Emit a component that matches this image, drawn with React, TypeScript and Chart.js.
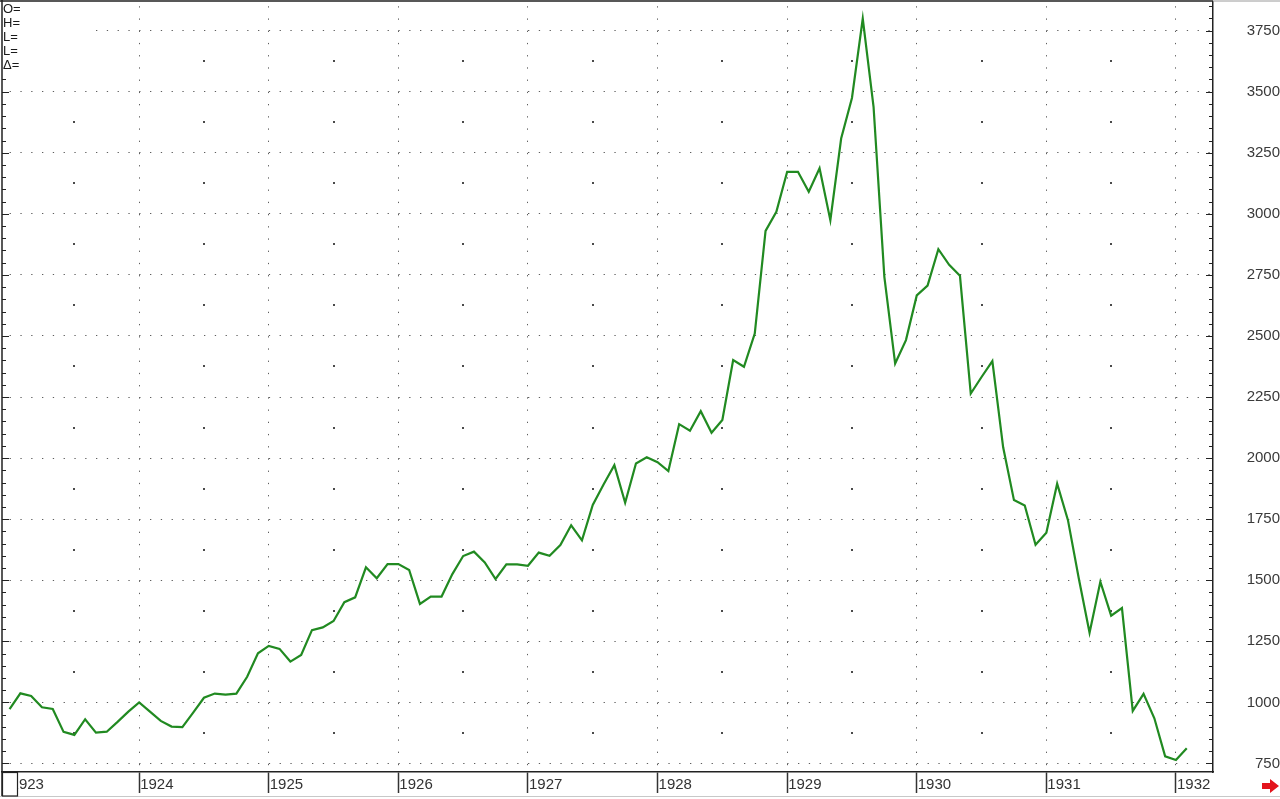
import React, { useEffect, useRef } from 'react';
import { Chart, registerables } from 'chart.js';

Chart.register(...registerables);

// Year tick labels (one tick every 12 months, starting January 1923)
const YEAR_LABELS = ['1923', '1924', '1925', '1926', '1927', '1928', '1929', '1930', '1931', '1932'];
const MONTHS_PER_YEAR = 12;

// Monthly closing values, Jan 1923 .. Feb 1932
const VALUES_1923 = [972, 1037, 1026, 980, 973, 879, 867, 931, 876, 880, 920, 962];
const VALUES_1924 = [1000, 962, 924, 901, 899, 958, 1019, 1036, 1032, 1036, 1105, 1201];
const VALUES_1925 = [1231, 1219, 1167, 1194, 1296, 1307, 1333, 1410, 1430, 1553, 1508, 1566];
const VALUES_1926 = [1566, 1542, 1403, 1433, 1433, 1525, 1599, 1617, 1573, 1505, 1565, 1565];
const VALUES_1927 = [1559, 1613, 1600, 1644, 1725, 1663, 1808, 1892, 1971, 1817, 1978, 2003];
const VALUES_1928 = [1983, 1947, 2139, 2112, 2192, 2104, 2156, 2401, 2374, 2510, 2930, 3008];
const VALUES_1929 = [3172, 3172, 3090, 3186, 2974, 3308, 3474, 3799, 3438, 2742, 2387, 2483];
const VALUES_1930 = [2666, 2706, 2855, 2791, 2746, 2264, 2332, 2397, 2044, 1828, 1806, 1645];
const VALUES_1931 = [1694, 1895, 1746, 1508, 1285, 1494, 1355, 1386, 965, 1035, 935, 779];
const VALUES_1932 = [764, 812];

const MONTHLY_VALUES = [
  ...VALUES_1923, ...VALUES_1924, ...VALUES_1925, ...VALUES_1926, ...VALUES_1927,
  ...VALUES_1928, ...VALUES_1929, ...VALUES_1930, ...VALUES_1931, ...VALUES_1932,
];

// Right-axis tick labels
const Y_TICKS = [750, 1000, 1250, 1500, 1750, 2000, 2250, 2500, 2750, 3000, 3250, 3500, 3750];
// Levels half-way between grid lines (marked by single dots at half-years)
const MID_LEVELS = [875, 1125, 1375, 1625, 1875, 2125, 2375, 2625, 2875, 3125, 3375, 3625];
const MINOR_STEP = 50;

// Info panel labels, top-left
const INFO_LABELS = ['O=', 'H=', 'L=', 'L=', '\u0394='];

const FONT_FAMILY = '"Liberation Sans", Arial, sans-serif';

const decorPlugin = {
  id: 'decor',
  beforeDatasetsDraw(chart: any) {
    const { ctx, scales } = chart;
    const x = scales.x;
    const y = scales.y;
    ctx.save();
    ctx.fillStyle = '#4a4a4a';
    for (let i = 0; i < YEAR_LABELS.length; i++) {
      const m = i * MONTHS_PER_YEAR + MONTHS_PER_YEAR / 2;
      if (m > x.max) continue;
      const px = Math.round(x.getPixelForValue(m));
      for (const lv of MID_LEVELS) {
        const py = Math.round(y.getPixelForValue(lv));
        ctx.fillRect(px - 1, py - 1, 2, 2);
      }
    }
    ctx.restore();
  },
  afterDraw(chart: any) {
    const { ctx, chartArea: ca, scales } = chart;
    const y = scales.y;
    const W = chart.width;
    const H = chart.height;
    ctx.save();

    // top-left info panel
    const panelW = 93;
    const panelH = 70;
    ctx.fillStyle = '#ffffff';
    ctx.fillRect(ca.left, ca.top, panelW, panelH);
    ctx.fillStyle = '#1a1a1a';
    ctx.font = '13px ' + FONT_FAMILY;
    ctx.textBaseline = 'middle';
    ctx.textAlign = 'left';
    INFO_LABELS.forEach((t, i) => ctx.fillText(t, 3, 9.5 + i * 14));

    // inward ticks on left and right frame
    ctx.strokeStyle = '#222';
    ctx.lineWidth = 1;
    ctx.beginPath();
    for (let v = Math.ceil(y.min / MINOR_STEP) * MINOR_STEP; v <= y.max; v += MINOR_STEP) {
      const py = Math.round(y.getPixelForValue(v)) + 0.5;
      const len = v % 250 === 0 ? 7 : 4;
      if (py > ca.top + panelH) {
        ctx.moveTo(ca.left, py);
        ctx.lineTo(ca.left + len, py);
      }
      ctx.moveTo(ca.right, py);
      ctx.lineTo(ca.right - len, py);
    }
    ctx.stroke();

    // frame: top and left lines
    ctx.strokeStyle = '#222';
    ctx.lineWidth = 1.5;
    ctx.beginPath();
    ctx.moveTo(0, 1);
    ctx.lineTo(ca.right, 1);
    ctx.moveTo(2, 0);
    ctx.lineTo(2, H - 3);
    ctx.stroke();

    ctx.strokeStyle = '#9a9a9a';
    ctx.lineWidth = 1;
    ctx.beginPath();
    ctx.moveTo(ca.right, 1);
    ctx.lineTo(W, 1);
    ctx.stroke();

    // bottom strip lower edge
    ctx.strokeStyle = '#c8c8c8';
    ctx.beginPath();
    ctx.moveTo(0, H - 2.5);
    ctx.lineTo(W, H - 2.5);
    ctx.stroke();

    // little box at the start of the date strip
    ctx.fillStyle = '#ffffff';
    ctx.fillRect(2.5, ca.bottom + 1, 15, H - ca.bottom - 4);
    ctx.strokeStyle = '#222';
    ctx.lineWidth = 1.2;
    ctx.strokeRect(2.5, ca.bottom + 0.5, 15, H - ca.bottom - 3.5);

    // red arrow, bottom right
    ctx.fillStyle = '#e3141c';
    ctx.beginPath();
    ctx.moveTo(W - 18, H - 16);
    ctx.lineTo(W - 10, H - 16);
    ctx.lineTo(W - 10, H - 20);
    ctx.lineTo(W - 1, H - 13);
    ctx.lineTo(W - 10, H - 6);
    ctx.lineTo(W - 10, H - 10);
    ctx.lineTo(W - 18, H - 10);
    ctx.closePath();
    ctx.fill();

    ctx.restore();
  },
};

export default function App() {
  const canvasRef = useRef<HTMLCanvasElement | null>(null);

  useEffect(() => {
    const canvas = canvasRef.current;
    if (!canvas) return;
    const data = MONTHLY_VALUES.map((v, i) => ({ x: i, y: v }));
    const gridColor = '#5e5e5e';
    const chart = new Chart(canvas, {
      type: 'line',
      data: {
        datasets: [
          {
            data,
            borderColor: '#218a21',
            borderWidth: 2.2,
            pointRadius: 0,
            tension: 0,
            fill: false,
          },
        ],
      },
      options: {
        responsive: false,
        animation: false,
        devicePixelRatio: 1,
        layout: { padding: { left: 2, top: 2, right: 0, bottom: 0 } },
        plugins: { legend: { display: false }, tooltip: { enabled: false } },
        scales: {
          x: {
            type: 'linear',
            min: -0.7,
            max: 111.43,
            afterBuildTicks: (s: any) => {
              s.ticks = YEAR_LABELS.map((_, i) => ({ value: i * MONTHS_PER_YEAR }));
            },
            afterFit: (s: any) => {
              s.height = 27;
              s.paddingLeft = 0;
              s.paddingRight = 0;
            },
            grid: {
              color: (c: any) => (c.tick && c.tick.value === 0 ? 'rgba(0,0,0,0)' : gridColor),
              lineWidth: 1,
              drawTicks: true,
              tickLength: 21,
              tickColor: '#333',
              tickWidth: 1.5,
            },
            border: { display: true, color: '#222', width: 1.5, dash: [1.3, 10.92], dashOffset: 7.97 },
            ticks: {
              autoSkip: false,
              maxRotation: 0,
              minRotation: 0,
              align: 'start',
              labelOffset: 1,
              padding: -17,
              color: '#333',
              font: { family: FONT_FAMILY, size: 15 },
              callback: (v: any) => YEAR_LABELS[Math.round(Number(v) / MONTHS_PER_YEAR)] ?? '',
            },
          },
          y: {
            type: 'linear',
            position: 'right',
            min: 715,
            max: 3867,
            afterBuildTicks: (s: any) => {
              s.ticks = Y_TICKS.map((v) => ({ value: v }));
            },
            afterFit: (s: any) => {
              s.width = 67;
              s.paddingTop = 0;
              s.paddingBottom = 0;
            },
            grid: { color: gridColor, lineWidth: 1, drawTicks: false },
            border: { display: true, color: '#222', width: 1.5, dash: [1.3, 9.5], dashOffset: 3.2 },
            ticks: {
              padding: 29,
              crossAlign: 'far',
              color: '#3a3a3a',
              font: { family: FONT_FAMILY, size: 15 },
              callback: (v: any) => String(v),
            },
          },
        },
      },
      plugins: [decorPlugin],
    } as any);
    return () => chart.destroy();
  }, []);

  return (
    <div style={{ position: 'fixed', left: 0, top: 0, width: 1280, height: 799, background: '#fff' }}>
      <canvas ref={canvasRef} width={1280} height={799} style={{ display: 'block' }} />
    </div>
  );
}
